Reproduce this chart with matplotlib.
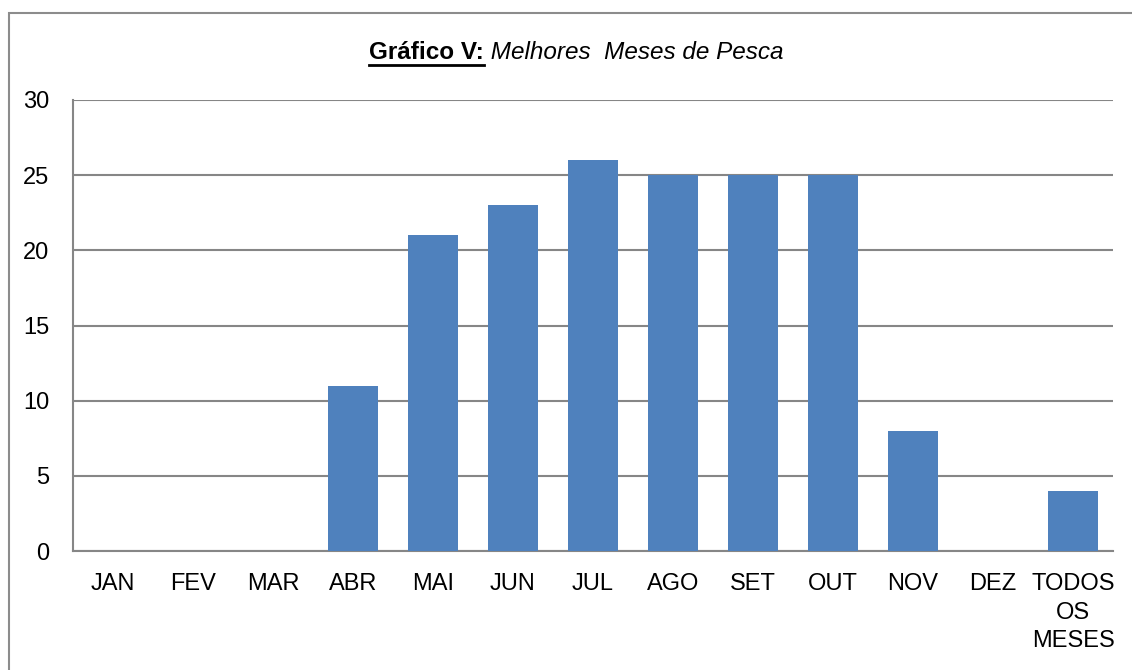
import matplotlib
matplotlib.use("Agg")
import matplotlib.pyplot as plt
from matplotlib.patches import Rectangle
from matplotlib.lines import Line2D

# data
meses = ["JAN", "FEV", "MAR", "ABR", "MAI", "JUN", "JUL", "AGO", "SET", "OUT",
         "NOV", "DEZ", "TODOS\nOS\nMESES"]
valores = [0, 0, 0, 11, 21, 23, 26, 25, 25, 25, 8, 0, 4]
y_ticks = [0, 5, 10, 15, 20, 25, 30]

BAR_COLOR = "#4F81BD"
GRID_COLOR = "#868686"

plt.rcParams["font.family"] = ["Liberation Sans Narrow", "Liberation Sans", "DejaVu Sans"]

W, H = 1132, 670
fig = plt.figure(figsize=(W / 100, H / 100), dpi=100)
ax = fig.add_axes([73 / W, 1 - 551 / H, (1113 - 73) / W, (551 - 100) / H])

x = list(range(len(meses)))
ax.bar(x, valores, width=0.63, color=BAR_COLOR, zorder=3)

ax.set_xlim(-0.5, len(meses) - 0.5)
ax.set_ylim(0, 30)
ax.set_yticks(y_ticks)
ax.set_xticks(x)
ax.set_xticklabels(meses, fontsize=17, linespacing=1.38)
ax.tick_params(axis="y", labelsize=17, length=0, pad=17)
ax.tick_params(axis="x", length=0, pad=16)
ax.yaxis.grid(True, color=GRID_COLOR, linewidth=1.5, zorder=0)
ax.set_axisbelow(True)
for side in ["top", "right"]:
    ax.spines[side].set_visible(False)
for side in ["left", "bottom"]:
    ax.spines[side].set_color(GRID_COLOR)
    ax.spines[side].set_linewidth(1.5)

# outer frame (only left and top visible in the crop)
fig.patches.append(Rectangle((8.5 / W, -0.1), 1.2, 1.1 - 13.5 / H,
                             transform=fig.transFigure, fill=False,
                             edgecolor="#8C8C8C", linewidth=1.5, clip_on=False))

# title: bold underlined part + italic part
fig.canvas.draw()
renderer = fig.canvas.get_renderer()
ty = 1 - 59 / H
t1 = fig.text(0, ty, "Gráfico V:", fontsize=17.5, fontweight="bold", va="baseline")
t2 = fig.text(0, ty, " Melhores  Meses de Pesca", fontsize=17.5, fontstyle="italic", va="baseline")
w1 = t1.get_window_extent(renderer).width
w2 = t2.get_window_extent(renderer).width
x0 = 576 - (w1 + w2) / 2
t1.set_x(x0 / W)
t2.set_x((x0 + w1) / W)
uy = 1 - 64.5 / H
fig.lines.append(Line2D([x0 / W, (x0 + w1) / W], [uy, uy], transform=fig.transFigure,
                        color="black", linewidth=2))

fig.savefig("out.png", dpi=100)
